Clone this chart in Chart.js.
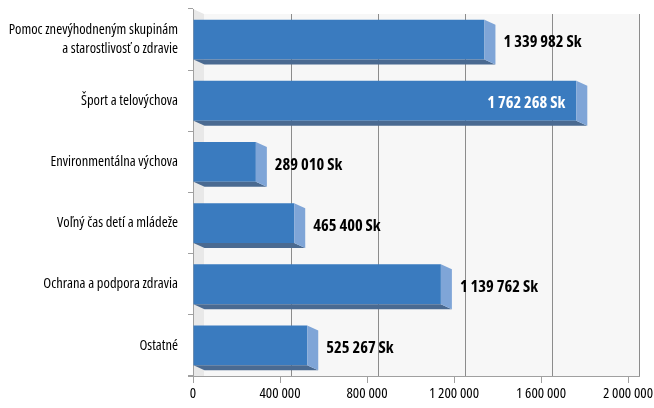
<!DOCTYPE html>
<html>
<head>
<meta charset="utf-8">
<script src="https://cdn.jsdelivr.net/npm/chart.js@4/dist/chart.umd.min.js"></script>
<style>
    html, body { margin: 0; padding: 0; background: #fff; }
    #wrap { width: 654px; height: 408px; }
</style>
</head>
<body>
<div id="wrap"><canvas id="chart" width="654" height="408"></canvas></div>
<script>
var categories = [
    ["Pomoc znevýhodneným skupinám", "a starostlivosť o zdravie"],
    "Šport a telovýchova",
    "Environmentálna výchova",
    "Voľný čas detí a mládeže",
    "Ochrana a podpora zdravia",
    "Ostatné"
];
var amounts = [1339982, 1762268, 289010, 465400, 1139762, 525267];
var axisMax = 2000000;
var axisStep = 400000;
var currency = "Sk";

var DX = 11, DY = 5;   // 3d depth offset
var fontFamily = "'Open Sans', sans-serif";

function spaced(n) {
    return String(n).replace(/\B(?=(\d{3})+(?!\d))/g, " ");
}

// back wall, left wall and gridlines on the back wall
var wallPlugin = {
    id: 'wall3d',
    beforeDraw: function(chart) {
        var ctx = chart.ctx;
        var a = chart.chartArea;
        var xs = chart.scales.x;
        var left = a.left, right = xs.getPixelForValue(axisMax) + DX;
        ctx.save();
        // left wall
        ctx.fillStyle = '#e8e8e8';
        ctx.beginPath();
        ctx.moveTo(left, a.top);
        ctx.lineTo(left + DX, a.top + DY);
        ctx.lineTo(left + DX, a.bottom);
        ctx.lineTo(left, a.bottom);
        ctx.closePath();
        ctx.fill();
        // back wall
        ctx.fillStyle = '#f7f7f7';
        ctx.fillRect(left + DX, a.top + DY, right - left - DX, a.bottom - a.top - DY);
        // gridlines
        ctx.strokeStyle = '#8c8c8c';
        ctx.lineWidth = 1;
        for (var v = axisStep; v <= axisMax; v += axisStep) {
            var px = Math.round(xs.getPixelForValue(v) + DX) + 0.5;
            ctx.beginPath();
            ctx.moveTo(px, a.top + DY);
            ctx.lineTo(px, a.bottom);
            ctx.stroke();
        }
        // floor line
        ctx.strokeStyle = '#a0a0a0';
        ctx.beginPath();
        ctx.moveTo(left - 5, Math.round(a.bottom) + 0.5);
        ctx.lineTo(right + 1, Math.round(a.bottom) + 0.5);
        ctx.stroke();
        ctx.restore();
    }
};

// side and bottom faces of the bars, plus value labels
var barPlugin = {
    id: 'bar3d',
    afterDatasetsDraw: function(chart) {
        var ctx = chart.ctx;
        var meta = chart.getDatasetMeta(0);
        ctx.save();
        meta.data.forEach(function(bar, i) {
            var top = bar.y - bar.height / 2;
            var bottom = bar.y + bar.height / 2;
            var x0 = bar.base, x1 = bar.x;
            // bottom face
            ctx.fillStyle = '#4a6a91';
            ctx.beginPath();
            ctx.moveTo(x0, bottom);
            ctx.lineTo(x1, bottom);
            ctx.lineTo(x1 + DX, bottom + DY);
            ctx.lineTo(x0 + DX, bottom + DY);
            ctx.closePath();
            ctx.fill();
            // side face
            ctx.fillStyle = '#7fa5d7';
            ctx.beginPath();
            ctx.moveTo(x1, top);
            ctx.lineTo(x1 + DX, top + DY);
            ctx.lineTo(x1 + DX, bottom + DY);
            ctx.lineTo(x1, bottom);
            ctx.closePath();
            ctx.fill();

            // label
            var text = spaced(amounts[i]) + " " + currency;
            ctx.font = "bold condensed 16.5px " + fontFamily;
            ctx.textBaseline = 'middle';
            var w = ctx.measureText(text).width;
            var ly = bar.y + 3;
            if (x1 + DX + 8 + w > chart.width - 4) {
                ctx.fillStyle = '#ffffff';
                ctx.textAlign = 'right';
                ctx.fillText(text, x1 - 11, ly);
            } else {
                ctx.fillStyle = '#000000';
                ctx.textAlign = 'left';
                ctx.fillText(text, x1 + DX + 8, ly);
            }
        });
        ctx.restore();
    }
};

var ctx = document.getElementById('chart');
var chart = new Chart(ctx, {
    type: 'bar',
    data: {
        labels: categories,
        datasets: [{
            data: amounts,
            backgroundColor: '#3a7bbf',
            borderWidth: 0,
            barPercentage: 0.65,
            categoryPercentage: 1.0
        }]
    },
    plugins: [wallPlugin, barPlugin],
    options: {
        indexAxis: 'y',
        responsive: false,
        animation: false,
        devicePixelRatio: 1,
        layout: { padding: { top: 9, right: 26, left: 0, bottom: 0 } },
        plugins: {
            legend: { display: false },
            tooltip: { enabled: false }
        },
        scales: {
            x: {
                min: 0,
                max: axisMax,
                ticks: {
                    stepSize: axisStep,
                    color: '#000',
                    font: { family: fontFamily, size: 15, weight: 'condensed' },
                    padding: 2,
                    maxRotation: 0,
                    callback: function(v) { return spaced(v); }
                },
                grid: {
                    drawOnChartArea: false,
                    drawTicks: true,
                    tickLength: 7,
                    color: '#a0a0a0'
                },
                border: { display: true, color: '#a0a0a0' },
                afterFit: function(scale) {
                    scale.height = 32;
                    scale.paddingLeft = 0;
                    scale.paddingRight = 0;
                }
            },
            y: {
                ticks: {
                    color: '#000',
                    font: { family: fontFamily, size: 14.5, weight: 'condensed', lineHeight: 1.3 },
                    padding: 10
                },
                grid: {
                    offset: true,
                    drawOnChartArea: false,
                    drawTicks: true,
                    tickLength: 5,
                    color: '#a0a0a0'
                },
                border: { display: true, color: '#a0a0a0' },
                afterFit: function(scale) {
                    scale.width = 193;
                    scale.paddingTop = 0;
                    scale.paddingBottom = 0;
                }
            }
        }
    }
});
</script>
</body>
</html>
